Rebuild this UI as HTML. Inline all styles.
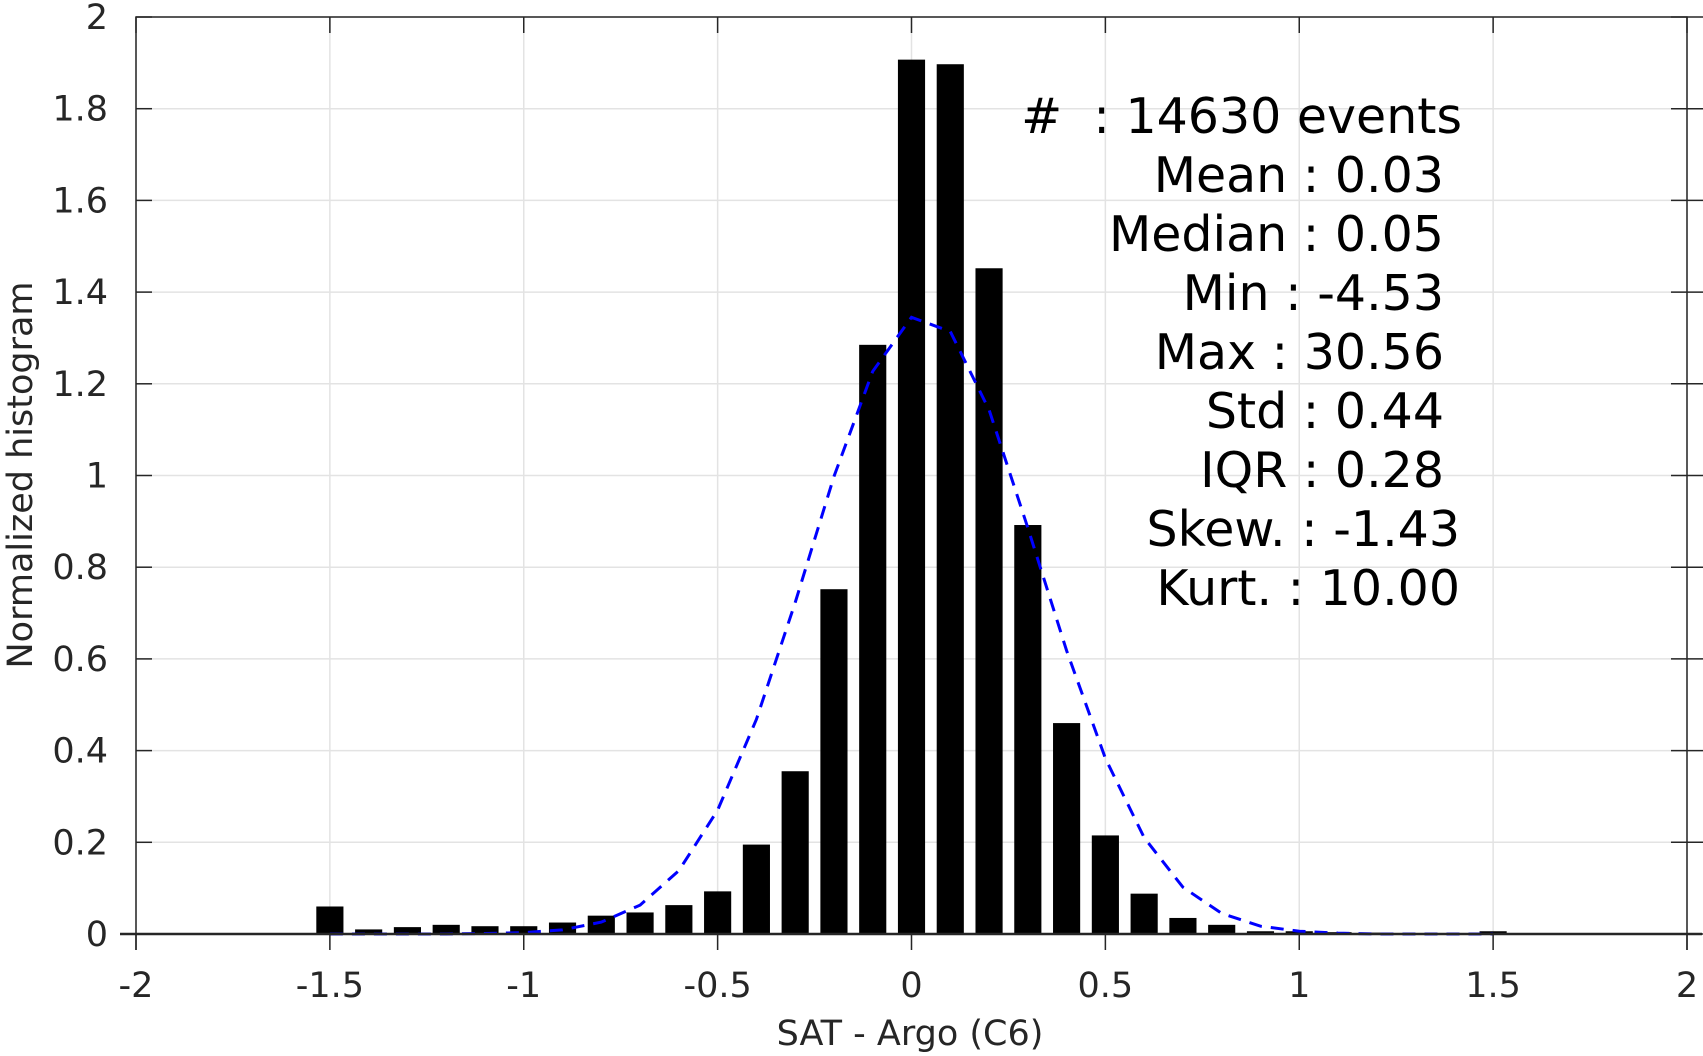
<!DOCTYPE html>
<html><head><meta charset="utf-8"><style>
html,body{margin:0;padding:0;background:#fff}
svg{display:block;font-family:"DejaVu Sans","Liberation Sans",sans-serif}
</style></head><body>
<svg id="chart" width="1703" height="1056" viewBox="0 0 1703 1056" xmlns="http://www.w3.org/2000/svg">
<rect x="0" y="0" width="1703" height="1056" fill="#fff"/>
<g id="grid"></g>
<g id="bars"></g>
<path id="fit" fill="none" stroke="#0000ff" stroke-width="3" stroke-dasharray="13,9"/>
<g id="axes"></g>
<g id="stats" font-size="49" fill="#000" text-anchor="end"></g>
<text x="910" y="1045" font-size="35" fill="#262626" text-anchor="middle">SAT - Argo (C6)</text>
<text transform="translate(32,475) rotate(-90)" font-size="35" fill="#262626" text-anchor="middle">Normalized histogram</text>
</svg>
<script>
const binCenters = [-1.5,-1.4,-1.3,-1.2,-1.1,-1.0,-0.9,-0.8,-0.7,-0.6,-0.5,-0.4,-0.3,-0.2,-0.1,0,0.1,0.2,0.3,0.4,0.5,0.6,0.7,0.8,0.9,1.0,1.1,1.2,1.3,1.4,1.5];
const barValues = [0.06,0.01,0.015,0.02,0.017,0.017,0.025,0.04,0.047,0.063,0.093,0.195,0.355,0.752,1.285,1.907,1.897,1.452,0.892,0.46,0.215,0.088,0.035,0.02,0.006,0.006,0.004,0.003,0.002,0.002,0.006];
const fitValues = [0,0,0,0,0.001,0.003,0.009,0.026,0.063,0.138,0.27,0.468,0.723,0.998,1.227,1.345,1.314,1.143,0.886,0.618,0.383,0.21,0.102,0.045,0.017,0.006,0.002,0,0,0,0];
const xTicks = [-2,-1.5,-1,-0.5,0,0.5,1,1.5,2];
const xTickLabels = ["-2","-1.5","-1","-0.5","0","0.5","1","1.5","2"];
const yTicks = [0,0.2,0.4,0.6,0.8,1,1.2,1.4,1.6,1.8,2];
const yTickLabels = ["0","0.2","0.4","0.6","0.8","1","1.2","1.4","1.6","1.8","2"];
const statLines = ["#  : 14630 events","Mean : 0.03","Median : 0.05","Min : -4.53","Max : 30.56","Std : 0.44","IQR : 0.28","Skew. : -1.43","Kurt. : 10.00"];
const statRight = [1462,1444,1444,1444,1444,1444,1444,1460,1460];

const X0=136,X1=1687,Y0=934,Y2=17,BOT=950;
const sx=v=>X0+(v+2)/4*(X1-X0);
const sy=v=>Y0-v/2*(Y0-Y2);
const NS="http://www.w3.org/2000/svg";
function mk(tag,attrs,parent){const e=document.createElementNS(NS,tag);for(const k in attrs)e.setAttribute(k,attrs[k]);parent.appendChild(e);return e;}
const grid=document.getElementById('grid'),axes=document.getElementById('axes'),bars=document.getElementById('bars');
xTicks.forEach((t,i)=>{
  const g=mk('line',{x1:sx(t),x2:sx(t),y1:Y2,y2:BOT,stroke:'#e3e3e3','stroke-width':1.5},grid);
  
  
  const tk=mk('line',{x1:sx(t),x2:sx(t),y1:Y0,y2:BOT,stroke:'#262626','stroke-width':1.5},axes);
  
  
  const tt=mk('line',{x1:sx(t),x2:sx(t),y1:Y2,y2:Y2+16,stroke:'#262626','stroke-width':1.5},axes);
  
  
  const l=mk('text',{x:sx(t),y:997,'font-size':35,fill:'#262626','text-anchor':'middle'},axes);
  l.textContent=xTickLabels[i];
  
  
});
yTicks.forEach((t,i)=>{
  const g=mk('line',{x1:X0,x2:X1,y1:sy(t),y2:sy(t),stroke:'#e3e3e3','stroke-width':1.5},grid);
  
  
  const tk=mk('line',{x1:X0,x2:X0+16,y1:sy(t),y2:sy(t),stroke:'#262626','stroke-width':1.5},axes);
  
  
  const tr=mk('line',{x1:X1-16,x2:X1+16,y1:sy(t),y2:sy(t),stroke:'#262626','stroke-width':1.5},axes);
  
  
  const l=mk('text',{x:108,y:sy(t)+12,'font-size':35,fill:'#262626','text-anchor':'end'},axes);
  l.textContent=yTickLabels[i];
  
  
});
const frame=mk('path',{d:`M${X0},${BOT} L${X0},${Y2} L${X1},${Y2} L${X1},${BOT}`,fill:'none',stroke:'#262626','stroke-width':1.5},axes);


const bw=(sx(0.035)-sx(0));
binCenters.forEach((c,i)=>{
  const r=mk('rect',{x:sx(c)-bw,y:sy(barValues[i]),width:2*bw,height:Y0-sy(barValues[i]),fill:'#000'},bars);
  
  
});
const base=mk('line',{x1:120,x2:1702,y1:Y0,y2:Y0,stroke:'#262626','stroke-width':2.5},axes);


document.getElementById('fit').setAttribute('d',binCenters.map((c,i)=>(i?'L':'M')+sx(c).toFixed(1)+','+sy(fitValues[i]).toFixed(1)).join(' '));
const st=document.getElementById('stats');
const ys=[133,192,251,310,369,428,487,546,605];
statLines.forEach((s,i)=>{
  const t=mk('text',{x:statRight[i],y:ys[i]},st);
  t.textContent=s;
  
  
  t.setAttribute('xml:space','preserve');
  t.style.whiteSpace='pre';
});
</script>
</body></html>
